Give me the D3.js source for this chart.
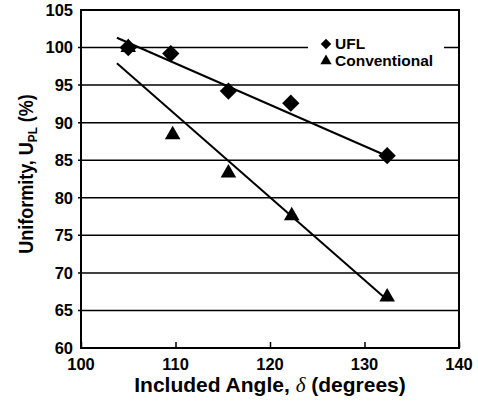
<!DOCTYPE html>
<html>
<head>
<meta charset="utf-8">
<script src="https://cdn.jsdelivr.net/npm/d3@7"></script>
<style>
  body { margin: 0; background: #fff; }
  text { font-family: "Liberation Sans", Arial, sans-serif; font-weight: bold; fill: #000; }
</style>
</head>
<body>
<script>
'use strict';

// values
let uflAngle = [105.0, 109.5, 115.6, 122.2, 132.4];
let uflUniformity = [100.0, 99.2, 94.2, 92.6, 85.6];
let convAngle = [105.0, 109.7, 115.6, 122.3, 132.4];
let convUniformity = [100.0, 88.4, 83.3, 77.6, 66.8];
// fitted trend lines, end points
let trendAngle = [103.8, 132.5];
let uflTrend = [101.3, 85.5];
let convTrend = [97.9, 66.3];

let xTicks = [100, 110, 120, 130, 140];
let yTicks = [60, 65, 70, 75, 80, 85, 90, 95, 100, 105];

let width = 478;
let height = 405;
let margin = { top: 10, right: 19, bottom: 57, left: 81 };

let svg = d3.select('body')
    .append('svg')
    .attr('width', width)
    .attr('height', height);

let xScale = d3.scaleLinear()
    .domain([100, 140])
    .range([margin.left, width - margin.right]);

let yScale = d3.scaleLinear()
    .domain([60, 105])
    .range([height - margin.bottom, margin.top]);

// grid lines, with a short stub left of the axis
svg.append('g')
    .selectAll('line')
    .data(yTicks.slice(1, -1))
    .enter()
    .append('line')
        .attr('x1', xScale(100) - 3)
        .attr('x2', xScale(140))
        .attr('y1', (d) => yScale(d))
        .attr('y2', (d) => yScale(d))
        .attr('stroke', '#000')
        .attr('stroke-width', 1.5);

// frame
svg.append('rect')
    .attr('x', xScale(100))
    .attr('y', yScale(105))
    .attr('width', xScale(140) - xScale(100))
    .attr('height', yScale(60) - yScale(105))
    .attr('fill', 'none')
    .attr('stroke', '#000')
    .attr('stroke-width', 2);

// x ticks point up into the plot
let xAxis = d3.axisTop(xScale)
    .tickValues(xTicks)
    .tickSize(6)
    .tickFormat('');
svg.append('g')
    .attr('transform', 'translate(0,' + yScale(60) + ')')
    .call(xAxis)
    .call((g) => g.select('.domain').remove())
    .call((g) => g.selectAll('line').attr('stroke-width', 1.5));

svg.append('g')
    .selectAll('text')
    .data(xTicks)
    .enter()
    .append('text')
        .attr('x', (d) => xScale(d))
        .attr('y', yScale(60) + 22)
        .attr('text-anchor', 'middle')
        .style('font-size', '16.5px')
        .text((d) => d);

svg.append('g')
    .selectAll('text')
    .data(yTicks)
    .enter()
    .append('text')
        .attr('x', xScale(100) - 8)
        .attr('y', (d) => yScale(d))
        .attr('dy', '0.36em')
        .attr('text-anchor', 'end')
        .style('font-size', '16.5px')
        .text((d) => d);

// trend lines
let line = d3.line()
    .x((d) => xScale(d[0]))
    .y((d) => yScale(d[1]));

svg.append('path')
    .attr('d', line(d3.zip(trendAngle, uflTrend)))
    .attr('fill', 'none')
    .attr('stroke', '#000')
    .attr('stroke-width', 2);

svg.append('path')
    .attr('d', line(d3.zip(trendAngle, convTrend)))
    .attr('fill', 'none')
    .attr('stroke', '#000')
    .attr('stroke-width', 2);

let triangle = d3.symbol().type(d3.symbolTriangle).size(105);
let diamond = d3.symbol().type(d3.symbolSquare).size(150);

// conventional markers
svg.append('g')
    .selectAll('path')
    .data(d3.zip(convAngle, convUniformity))
    .enter()
    .append('path')
        .attr('d', triangle)
        .attr('transform', (d) => 'translate(' + xScale(d[0]) + ',' + yScale(d[1]) + ')')
        .attr('fill', '#000');

// UFL markers
svg.append('g')
    .selectAll('path')
    .data(d3.zip(uflAngle, uflUniformity))
    .enter()
    .append('path')
        .attr('d', diamond)
        .attr('transform', (d) => 'translate(' + xScale(d[0]) + ',' + yScale(d[1]) + ') rotate(45)')
        .attr('fill', '#000');

// legend
let legend = svg.append('g');
legend.append('rect')
    .attr('x', 308)
    .attr('y', 36)
    .attr('width', 136)
    .attr('height', 34)
    .attr('fill', '#fff');

legend.append('path')
    .attr('d', d3.symbol().type(d3.symbolSquare).size(55))
    .attr('transform', 'translate(326,44) rotate(45)')
    .attr('fill', '#000');
legend.append('path')
    .attr('d', d3.symbol().type(d3.symbolTriangle).size(55))
    .attr('transform', 'translate(326,61)')
    .attr('fill', '#000');
legend.append('text')
    .attr('x', 335)
    .attr('y', 49)
    .style('font-size', '15.5px')
    .text('UFL');
legend.append('text')
    .attr('x', 335)
    .attr('y', 66)
    .style('font-size', '15.5px')
    .text('Conventional');

// axis titles
let xTitle = svg.append('text')
    .attr('x', (xScale(100) + xScale(140)) / 2)
    .attr('y', 392)
    .attr('text-anchor', 'middle')
    .style('font-size', '21px');
xTitle.append('tspan').text('Included Angle, ');
xTitle.append('tspan')
    .style('font-family', '"Liberation Serif", "Times New Roman", serif')
    .style('font-style', 'italic')
    .style('font-weight', 'normal')
    .text('δ');
xTitle.append('tspan').text(' (degrees)');

let yTitle = svg.append('text')
    .attr('transform', 'translate(33,174) rotate(-90) scale(0.9,1)')
    .attr('text-anchor', 'middle')
    .style('font-size', '20px');
yTitle.append('tspan').text('Uniformity, U');
yTitle.append('tspan')
    .attr('dy', 4)
    .style('font-size', '13px')
    .text('PL');
yTitle.append('tspan')
    .attr('dy', -4)
    .text(' (%)');
</script>
</body>
</html>
